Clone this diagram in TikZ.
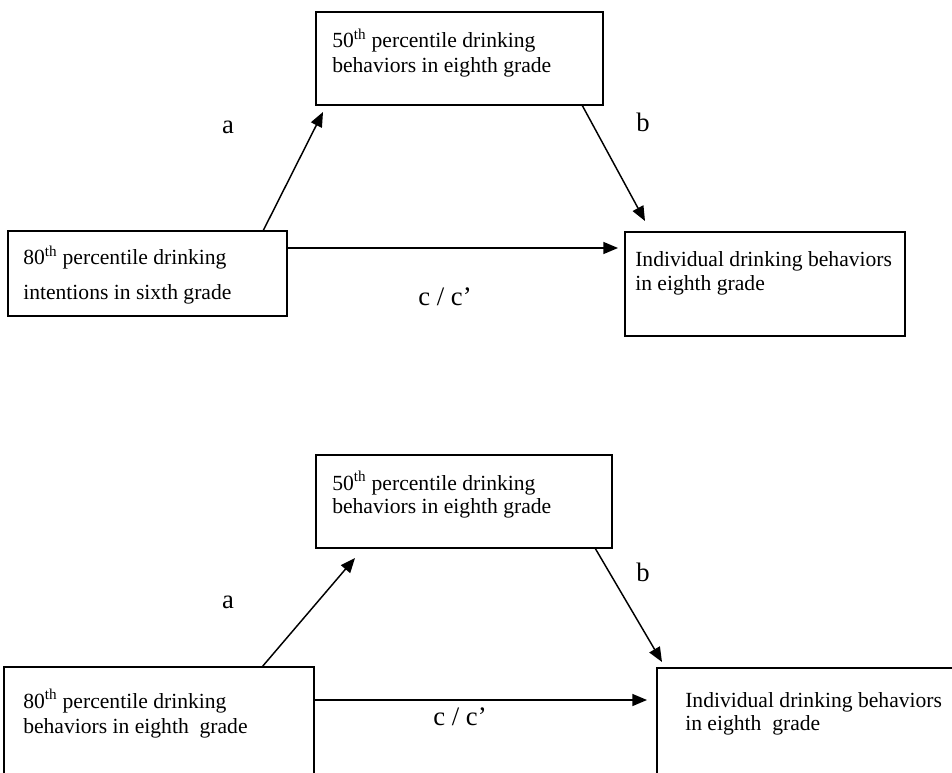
\documentclass[tikz,border=0pt]{standalone}
\usepackage{fontspec}
\setmainfont{Liberation Serif}
\usetikzlibrary{arrows.meta,fit}
\newcommand{\boxfont}[1]{\fontsize{16.2}{#1}\selectfont}

\begin{document}
\begin{tikzpicture}[x=0.75pt,y=-0.75pt,
    box/.style={draw, line width=1.2pt, inner sep=0pt, outer sep=0pt},
    boxtext/.style={anchor=base west, align=left, inner sep=0pt},
    pathlabel/.style={font=\fontsize{20}{24}\selectfont, inner sep=0pt},
    arr/.style={line width=1.1pt, -{Triangle[length=11pt,width=9pt]}}]
    \useasboundingbox (0,0) rectangle (952,773);
    \clip (0,0) rectangle (952,773);
    % upper model: intentions in sixth grade
    \node[box, fit={(316,12) (603,105)}] (med1) {};
    \node[box, fit={(8,231) (287,316)}] (x1) {};
    \node[box, fit={(625,232) (905,336)}] (y1) {};
    % base anchor sits on the last line
    \node[boxtext, font=\boxfont{18.75}] (med1txt) at ([shift={(16,61)}]med1.north west)
        {50\textsuperscript{th} percentile drinking\\behaviors in eighth grade};
    \node[boxtext, font=\boxfont{26.25}] (x1txt) at ([shift={(15,69)}]x1.north west)
        {80\textsuperscript{th} percentile drinking\\intentions in sixth grade};
    \node[boxtext, font=\boxfont{18}] (y1txt) at ([shift={(10,59)}]y1.north west)
        {Individual drinking behaviors\\in eighth grade};
    \draw[arr] ([shift={(255,0)}]x1.north west) -- ([shift={(7,7)}]med1.south west);
    \draw[arr] ([shift={(-21,0)}]med1.south east) -- ([shift={(20,-11)}]y1.north west);
    \draw[arr] ([shift={(0,17)}]x1.north east) -- ([shift={(-7,16)}]y1.north west);
    \node[pathlabel] (a1) at (228,127) {a};
    \node[pathlabel] (b1) at (643,122) {b};
    \node[pathlabel] (c1) at (445,297) {c / c’};
    % lower model: behaviors in eighth grade
    \node[box, fit={(316,455) (612,548)}] (med2) {};
    \node[box, fit={(4,667) (314,800)}] (x2) {};
    \node[box, fit={(657,668) (980,800)}] (y2) {};
    \node[boxtext, font=\boxfont{17.25}] (med2txt) at ([shift={(16,58)}]med2.north west)
        {50\textsuperscript{th} percentile drinking\\behaviors in eighth grade};
    \node[boxtext, font=\boxfont{18.75}] (x2txt) at ([shift={(19,66)}]x2.north west)
        {80\textsuperscript{th} percentile drinking\\behaviors in eighth~ grade};
    \node[boxtext, font=\boxfont{17.25}] (y2txt) at ([shift={(28,62)}]y2.north west)
        {Individual drinking behaviors\\in eighth~ grade};
    \draw[arr] ([shift={(258,0)}]x2.north west) -- ([shift={(39,10)}]med2.south west);
    \draw[arr] ([shift={(-17,0)}]med2.south east) -- ([shift={(5,-6)}]y2.north west);
    \draw[arr] ([shift={(0,33)}]x2.north east) -- ([shift={(-10,32)}]y2.north west);
    \node[pathlabel] (a2) at (228,602) {a};
    \node[pathlabel] (b2) at (643,572) {b};
    \node[pathlabel] (c2) at (460,717) {c / c’};
\end{tikzpicture}
\end{document}
